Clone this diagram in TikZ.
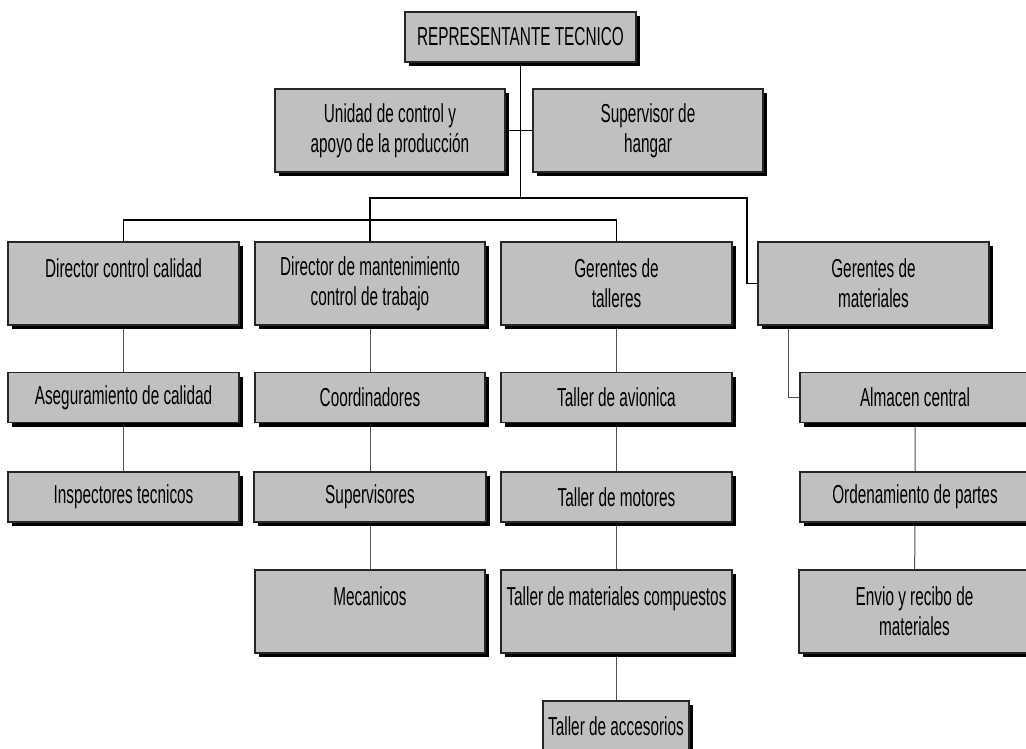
\documentclass[tikz,border=0pt]{standalone}
\usepackage{fontspec}
\setmainfont[FakeStretch=0.59]{Liberation Sans}
\usetikzlibrary{shadows,backgrounds}
\definecolor{boxgray}{HTML}{C0C0C0}
\definecolor{linkgray}{HTML}{505050}
\begin{document}
\begin{tikzpicture}[x=1pt,y=-1pt,
  unit/.style={rectangle, draw=black!85, line width=1.2pt, fill=boxgray,
    inner sep=0pt, align=center, minimum width=231pt,
    font=\fontsize{26pt}{30pt}\selectfont,
    drop shadow={shadow xshift=4pt, shadow yshift=-4pt, fill=black, opacity=1}},
  short/.style={unit, minimum height=50pt},
  tall/.style={unit, minimum height=83pt},
  bus/.style={draw=black, line width=1.2pt},
  link/.style={draw=linkgray, line width=1pt}]
\clip (0,0) rectangle (1026,749);
\useasboundingbox (0,0) rectangle (1026,749);

% top of the chart
\node[short] (rep) at (520.5,37) {REPRESENTANTE TECNICO};
\node[tall, minimum width=230pt] (unidad) at (390,130.5) {Unidad de control y\\apoyo de la producción};
\node[tall, minimum width=230pt] (superv) at (648,130.5) {Supervisor de\\hangar};

% directors and managers
\node[tall] (dcc) at (123.5,283.5) {Director control calidad\\~};
\node[tall, minimum width=230pt] (dman) at (370,283.5) {Director de mantenimiento\\control de trabajo};
\node[tall] (gtal) at (616.5,283.5) {Gerentes de\\talleres};
\node[tall] (gmat) at (873.5,283.5) {Gerentes de\\materiales};

% third row
\node[short] (aseg) at (123.5,397.5) {Aseguramiento de calidad};
\node[short, minimum width=230pt] (coord) at (370,397.5) {Coordinadores};
\node[short] (tavi) at (616.5,397.5) {Taller de avionica};
\node[short, minimum width=230pt] (almacen) at (915,397.5) {Almacen central};

% fourth row
\node[short] (insp) at (123.5,497) {Inspectores tecnicos};
\node[short, minimum width=232pt] (supervs) at (370,497) {Supervisores};
\node[short] (tmot) at (616.5,497) {Taller de motores};
\node[short, minimum width=230pt] (orden) at (915,497) {Ordenamiento de partes};

% fifth row
\node[tall, minimum width=230pt] (mec) at (370,611.5) {Mecanicos\\~};
\node[tall] (tmc) at (616.5,611.5) {Taller de materiales compuestos\\~};
\node[tall, minimum width=231pt] (envio) at (914.5,611.5) {Envio y recibo de\\materiales};

% last box
\node[short, minimum width=146pt] (tacc) at (616,726) {Taller de accesorios};

% connectors, drawn beneath the boxes and their shadows
\coordinate (trunk) at (520.5,198);
\coordinate (rbus) at (747,198);
\coordinate (lbus) at (370,220);
\begin{scope}[on background layer]
  \fill[white] (0,0) rectangle (1026,749);
  \draw[bus] (rep.south) -- (trunk);
  \draw[bus] (unidad.east) -- (superv.west);
  \draw[bus] (dman.north) |- (rbus) |- (gmat.west);
  \draw[bus] (dcc.north) |- (lbus) -| (gtal.north);
  \draw[link] (dcc) -- (aseg) -- (insp);
  \draw[link] (dman) -- (coord) -- (supervs) -- (mec);
  \draw[link] (gtal) -- (tavi) -- (tmot) -- (tmc);
  \draw[link] (tmc.south -| tacc.north) -- (tacc.north);
  \draw[link] ([xshift=-85.5pt]gmat.south) |- (almacen.west);
  \draw[link] (almacen) -- (orden) -- (envio);
\end{scope}
\end{tikzpicture}
\end{document}
